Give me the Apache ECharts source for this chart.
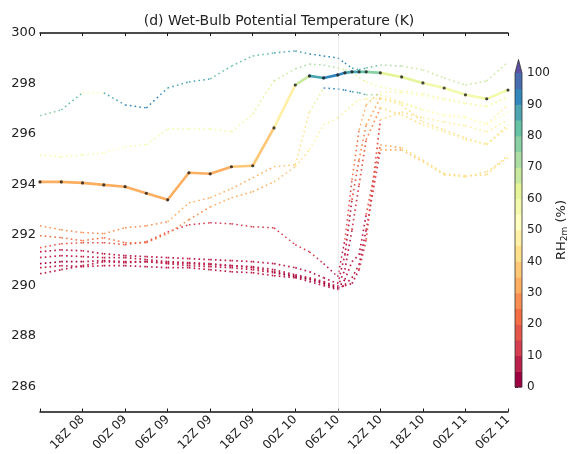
<!DOCTYPE html>
<html><head><meta charset="utf-8">
<script src="https://cdn.jsdelivr.net/npm/echarts@6/dist/echarts.min.js"></script>
<style>html,body{margin:0;padding:0;background:#fff}#c{width:578px;height:454px}</style>
</head><body><div id="c"></div>
<script>
// time in hours since 00Z 08
const hours = [12,15,18,21,24,27,30,33,36,39,42,45,48,50,52,54,55,56,57,58,60,63,66,69,72,75,78];
const xTickHours = [18,24,30,36,42,48,54,60,66,72,78];
const xTickLabels = ['18Z 08','00Z 09','06Z 09','12Z 09','18Z 09','00Z 10','06Z 10','12Z 10','18Z 10','00Z 11','06Z 11'];
const yTickLabels = [286,288,290,292,294,296,298,300];
const cbTickLabels = [0,10,20,30,40,50,60,70,80,90,100];

// wet-bulb potential temperature (K) per member
const memA = [296.72,296.95,297.63,297.63,297.15,297.03,297.82,298.06,298.18,298.69,299.09,299.21,299.29,299.17,299.09,299.01,298.81,298.61,298.54,298.61,298.73,298.69,298.54,298.22,297.94,298.10,298.85];
const memB = [295.17,295.09,295.17,295.25,295.49,295.57,296.20,296.20,296.20,296.08,296.79,298.10,298.58,298.77,298.73,298.61,298.54,298.46,298.22,298.06,297.86,297.70,297.59,297.39,297.23,297.07,297.51];
const memC = [294.10,294.10,294.06,293.98,293.91,293.65,293.39,294.46,294.42,294.70,294.74,296.24,297.94,298.30,298.22,298.34,298.42,298.46,298.46,298.46,298.42,298.26,298.02,297.82,297.55,297.39,297.74];
const memD1 = [292.36,292.20,292.09,292.05,292.28,292.36,292.52,293.27,293.47,293.83,294.26,294.70,294.78,296.87,297.82,297.78,297.74,297.67,297.63,297.55,297.55,297.27,296.95,296.76,296.68,296.36,296.87];
const memD2 = [291.97,291.89,291.77,291.89,291.69,291.69,292.05,292.60,293.11,293.47,293.71,294.10,294.70,295.37,296.36,296.64,296.87,297.15,297.35,297.39,297.39,297.15,296.48,296.16,295.84,295.57,296.36];
const memE1 = [291.49,291.65,291.69,291.69,291.61,291.73,292.12,292.40,292.48,292.44,292.32,292.28,291.61,291.33,290.86,290.34,291.81,294.18,296.16,297.15,297.67,297.63,297.51,297.35,297.19,297.11,297.43];
const memE2 = [291.33,291.41,291.37,291.25,291.18,291.14,291.10,291.06,291.02,290.98,290.94,290.86,290.70,290.54,290.30,290.07,291.21,293.39,294.97,296.36,297.43,297.23,296.95,296.72,296.64,296.40,297.15];
const memE3 = [291.10,291.18,291.14,291.10,291.10,291.02,290.94,290.90,290.86,290.78,290.74,290.62,290.42,290.30,290.15,289.95,290.62,292.20,293.98,295.77,297.03,296.76,296.36,296.08,295.77,295.61,296.24];
const memE4 = [290.86,290.94,290.94,290.98,290.94,290.94,290.86,290.78,290.74,290.70,290.62,290.50,290.34,290.23,290.07,289.87,290.23,290.94,291.21,292.80,295.57,295.45,294.97,294.42,294.34,294.38,295.17];
const memE5 = [290.70,290.78,290.74,290.78,290.78,290.74,290.70,290.70,290.62,290.54,290.50,290.38,290.30,290.15,289.99,289.83,290.03,290.30,290.82,292.20,295.37,295.37,294.90,294.38,294.30,294.50,295.05];
const memE6 = [290.46,290.62,290.78,290.94,290.90,290.94,290.90,290.86,290.82,290.78,290.70,290.54,290.38,290.27,290.11,289.91,289.99,290.07,290.62,291.81,296.56,296.87,296.64,296.48,296.32,296.08,296.56];

// 2 m relative humidity (%) per member
const rhA = [78,80,50,88,90,90,88,85,82,80,82,85,88,90,92,92,90,88,85,80,72,68,66,65,65,66,65];
const rhB = [58,58,55,50,58,58,57,55,55,58,62,68,72,72,70,68,65,62,60,58,58,57,57,56,56,56,58];
const rhC = [34,34,34,34,34,33,32,34,34,36,38,48,66,88,90,90,88,86,82,75,62,60,58,56,56,56,58];
const rhD1 = [28,28,28,28,28,27,30,30,30,32,33,35,40,60,90,90,90,88,85,70,58,55,52,52,52,50,52];
const rhD2 = [22,22,22,20,22,22,25,28,30,32,34,36,40,45,45,46,46,48,48,46,46,44,42,42,40,40,42];
const rhE1 = [15,16,18,18,17,16,14,12,12,12,12,12,10,10,8,8,15,22,30,38,45,50,52,52,52,52,54];
const rhE2 = [6,6,6,6,6,6,6,6,6,6,6,6,6,5,5,5,8,15,25,32,42,48,50,50,50,48,50];
const rhE3 = [5,5,6,6,6,6,6,5,5,5,5,5,5,5,5,5,6,10,18,28,40,44,46,46,46,45,46];
const rhE4 = [4,4,5,5,5,5,5,5,5,5,5,4,4,4,4,4,5,6,8,16,34,40,42,42,42,42,44];
const rhE5 = [6,6,6,6,6,6,6,6,6,6,5,5,5,5,5,5,5,6,8,14,32,38,40,40,40,40,42];
const rhE6 = [7,7,7,7,7,7,7,7,7,7,6,6,6,6,6,5,5,6,10,18,40,44,46,46,46,45,47];

const spectral = [[158,1,66],[213,62,79],[244,109,67],[253,174,97],[254,224,139],[255,255,191],[230,245,152],[171,221,164],[102,194,165],[50,136,189],[94,79,162]];
function spec(t){const p=Math.max(0,Math.min(1,t))*10;const i=Math.min(9,Math.floor(p));const f=p-i;const a=spectral[i],b=spectral[i+1];return 'rgb('+a.map((v,k)=>Math.round(v+(b[k]-v)*f)).join(',')+')';}
const pieces=[];for(let i=0;i<20;i++)pieces.push({gte:i*5,lt:(i+1)*5,color:spec(i/20)});pieces.push({gte:100,color:spec(1)});

function segs(vals,rh){const out=[];for(let i=0;i<hours.length-1;i++)out.push([hours[i],vals[i],hours[i+1],vals[i+1],rh[i]]);return out;}
function member(vals,rh,width,dash,cap){
  return {type:'custom',data:segs(vals,rh),encode:{x:[0,2],y:[1,3]},z:2,silent:true,
    renderItem:function(params,api){const p0=api.coord([api.value(0),api.value(1)]);const p1=api.coord([api.value(2),api.value(3)]);
      return {type:'line',shape:{x1:p0[0],y1:p0[1],x2:p1[0],y2:p1[1]},style:{stroke:api.visual('color'),lineWidth:width,lineDash:dash,lineCap:cap||'butt'}};}};
}
const dot=[1.6,3.2];
const series=[
  member(memE6,rhE6,1.7,dot),member(memE5,rhE5,1.7,dot),member(memE4,rhE4,1.7,dot),member(memE3,rhE3,1.7,dot),
  member(memE2,rhE2,1.7,dot),member(memE1,rhE1,1.5,dot),member(memD2,rhD2,1.5,dot),member(memD1,rhD1,1.5,dot),
  member(memB,rhB,1.5,dot),member(memA,rhA,1.5,dot),member(memC,rhC,2.6,null,'round')
];
const nMembers=series.length;
series.push({type:'scatter',data:hours.map((h,i)=>[h,memC[i]]),symbolSize:3.2,itemStyle:{color:'#1a1a1a'},z:5,silent:true,
  markLine:{silent:true,symbol:['none','none'],label:{show:false},lineStyle:{color:'#dcdcdc',type:'dotted',width:1},data:[{xAxis:54}]}});
// colorbar
const cbBins=[];for(let i=0;i<20;i++)cbBins.push([i*5,(i+1)*5,i]);
series.push({type:'custom',xAxisIndex:2,yAxisIndex:1,data:cbBins,silent:true,
  renderItem:function(p,api){const a=api.coord([0,api.value(1)]),b=api.coord([1,api.value(0)]);
    return {type:'rect',shape:{x:a[0],y:a[1],width:b[0]-a[0],height:b[1]-a[1]+0.5},style:{fill:pieces[api.value(2)].color}};}});
series.push({type:'custom',xAxisIndex:2,yAxisIndex:1,data:[[0]],silent:true,z:3,
  renderItem:function(p,api){const q=[api.coord([0,100]),api.coord([1,100]),api.coord([0.5,104.3])];
    const o=[api.coord([0,0]),api.coord([1,0]),api.coord([1,100]),api.coord([0.5,104.3]),api.coord([0,100])];
    return {type:'group',children:[{type:'polygon',shape:{points:q},style:{fill:spec(1)}},{type:'polygon',shape:{points:o},style:{fill:'none',stroke:'#333',lineWidth:0.8}}]};}});

const chart=echarts.init(document.getElementById('c'));
chart.setOption({
  animation:false,
  textStyle:{fontFamily:'DejaVu Sans'},
  title:{text:'(d) Wet-Bulb Potential Temperature (K)',left:274,textAlign:'center',top:9,textStyle:{fontSize:14,fontWeight:'normal',color:'#222',fontFamily:'DejaVu Sans'}},
  grid:[{left:40,right:70,top:33,bottom:42},{left:515,width:7,top:73,bottom:67}],
  xAxis:[
    {type:'value',gridIndex:0,min:12,max:78,interval:6,axisLine:{lineStyle:{color:'#111',width:1.5}},axisTick:{inside:true,length:3,lineStyle:{color:'#111'}},splitLine:{show:false},
     axisLabel:{rotate:45,fontSize:12,color:'#222',margin:6,formatter:v=>{const i=xTickHours.indexOf(v);return i>=0?xTickLabels[i]:'';}}},
    {type:'value',gridIndex:0,position:'top',min:12,max:78,interval:6,axisLine:{lineStyle:{color:'#111',width:1.5}},axisTick:{inside:true,length:3,lineStyle:{color:'#111'}},axisLabel:{show:false},splitLine:{show:false}},
    {type:'value',gridIndex:1,min:0,max:1,show:false}
  ],
  yAxis:[
    {type:'value',gridIndex:0,min:285,max:300,interval:1,axisLine:{show:false},axisTick:{show:false},splitLine:{show:false},
     axisLabel:{fontSize:13,color:'#222',margin:4,formatter:v=>yTickLabels.includes(v)?String(v):''}},
    {type:'value',gridIndex:1,min:0,max:100,interval:10,position:'right',axisLine:{show:false},splitLine:{show:false},
     axisTick:{show:true,length:3,lineStyle:{color:'#333'}},
     axisLabel:{fontSize:12,color:'#222',margin:5,formatter:v=>cbTickLabels.includes(v)?String(v):''},
     name:'RH{s|2m} (%)',nameLocation:'middle',nameRotate:90,nameGap:32,
     nameTextStyle:{fontSize:13,color:'#222',rich:{s:{fontSize:9,verticalAlign:'bottom',padding:[6,0,0,0]}}}}
  ],
  visualMap:{type:'piecewise',show:false,dimension:4,seriesIndex:Array.from({length:nMembers},(_, i)=>i),pieces:pieces},
  series:series
});
</script></body></html>
